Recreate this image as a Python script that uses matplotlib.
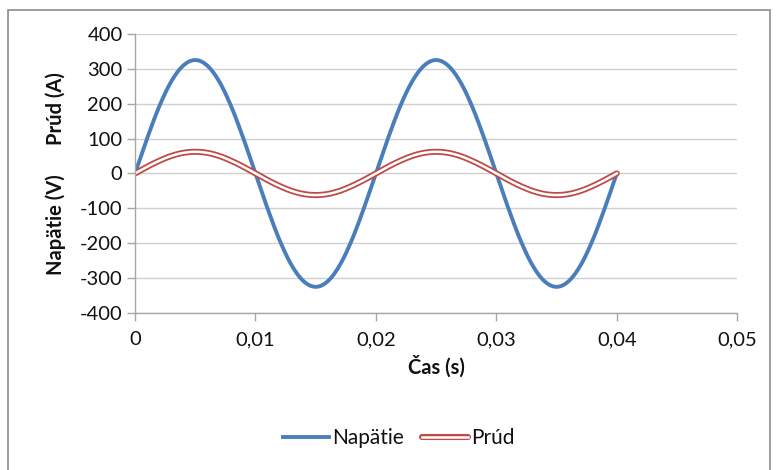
import numpy as np
import matplotlib.pyplot as plt
import matplotlib.patheffects as pe
from matplotlib.lines import Line2D
from matplotlib.patches import Rectangle

# časové body (s)
cas = [0.000, 0.001, 0.002, 0.003, 0.004, 0.005, 0.006, 0.007, 0.008, 0.009,
       0.010, 0.011, 0.012, 0.013, 0.014, 0.015, 0.016, 0.017, 0.018, 0.019,
       0.020, 0.021, 0.022, 0.023, 0.024, 0.025, 0.026, 0.027, 0.028, 0.029,
       0.030, 0.031, 0.032, 0.033, 0.034, 0.035, 0.036, 0.037, 0.038, 0.039,
       0.040]

# napätie (V)
napatie = [0, 100, 191, 263, 309, 325, 309, 263, 191, 100,
           0, -100, -191, -263, -309, -325, -309, -263, -191, -100,
           0, 100, 191, 263, 309, 325, 309, 263, 191, 100,
           0, -100, -191, -263, -309, -325, -309, -263, -191, -100,
           0]

# prúd (A)
prud = [0, 19, 36, 50, 59, 62, 59, 50, 36, 19,
        0, -19, -36, -50, -59, -62, -59, -50, -36, -19,
        0, 19, 36, 50, 59, 62, 59, 50, 36, 19,
        0, -19, -36, -50, -59, -62, -59, -50, -36, -19,
        0]

x_ticks = [0, 0.01, 0.02, 0.03, 0.04, 0.05]
x_labels = ["0", "0,01", "0,02", "0,03", "0,04", "0,05"]
y_ticks = [-400, -300, -200, -100, 0, 100, 200, 300, 400]


def vyhladit(x, y, n=12):
    # vyhladená čiara cez body (Catmull-Rom), ako "smoothed line" v Exceli
    x = np.asarray(x, float)
    y = np.asarray(y, float)
    px = np.concatenate([[2 * x[0] - x[1]], x, [2 * x[-1] - x[-2]]])
    py = np.concatenate([[2 * y[0] - y[1]], y, [2 * y[-1] - y[-2]]])
    t = np.linspace(0, 1, n, endpoint=False)
    xs, ys = [], []
    for i in range(1, len(px) - 2):
        for p, out in ((px, xs), (py, ys)):
            p0, p1, p2, p3 = p[i - 1], p[i], p[i + 1], p[i + 2]
            out.extend(0.5 * (2 * p1 + (-p0 + p2) * t
                              + (2 * p0 - 5 * p1 + 4 * p2 - p3) * t ** 2
                              + (-p0 + 3 * p1 - 3 * p2 + p3) * t ** 3))
    xs.append(x[-1])
    ys.append(y[-1])
    return xs, ys


plt.rcParams["font.family"] = ["Lato", "DejaVu Sans"]
plt.rcParams["axes.unicode_minus"] = False

modra = "#4a7ebb"
cervena = "#be4b48"
text_c = "#111111"
fs = 14.5

fig = plt.figure(figsize=(7.76, 4.70), dpi=100)
ax = fig.add_axes([0.174, 0.334, 0.776, 0.594])

# rámček okolo grafu (spodná hrana je mimo obrázka)
fig.patches.append(Rectangle((8 / 776, -10 / 470), 762 / 776, 470 / 470,
                             transform=fig.transFigure, fill=False,
                             edgecolor="#8c8c8c", linewidth=1.2))

obrys = [pe.Stroke(linewidth=4.4, foreground=cervena, capstyle="round"),
         pe.Normal()]

xn, yn = vyhladit(cas, napatie)
xp, yp = vyhladit(cas, prud)
ax.plot(xn, yn, color=modra, linewidth=2.8, solid_capstyle="round")
ax.plot(xp, yp, color="white", linewidth=1.8, path_effects=obrys)

ax.set_xlim(0, 0.05)
ax.set_ylim(-400, 400)
ax.set_xticks(x_ticks)
ax.set_xticklabels(x_labels)
ax.set_yticks(y_ticks)

ax.grid(axis="y", color="#d0d0d0", linewidth=1.0)
ax.set_axisbelow(True)
for s in ["top", "right"]:
    ax.spines[s].set_visible(False)
for s in ["left", "bottom"]:
    ax.spines[s].set_color("#a6a6a6")
    ax.spines[s].set_linewidth(1.0)

ax.tick_params(axis="both", colors="#a6a6a6", length=6, width=1.0,
               labelcolor=text_c, labelsize=fs)
ax.tick_params(axis="x", pad=7)
ax.tick_params(axis="y", pad=3)

ax.set_xlabel("Čas (s)", fontsize=fs, fontweight="bold", color=text_c, labelpad=5)
ax.set_ylabel("Napätie (V)      Prúd (A)", fontsize=fs, fontweight="bold",
              color=text_c, labelpad=10)

h_nap = Line2D([], [], color=modra, linewidth=2.8)
h_prud = Line2D([], [], color="white", linewidth=1.8, path_effects=obrys)
fig.legend([h_nap, h_prud], ["Napätie", "Prúd"],
           loc="center", bbox_to_anchor=(399 / 776, 1 - 438 / 470),
           ncol=2, frameon=False, fontsize=15, handlelength=2.2,
           handletextpad=0.15, columnspacing=0.9, labelcolor=text_c)

plt.savefig("out.png", dpi=100)
